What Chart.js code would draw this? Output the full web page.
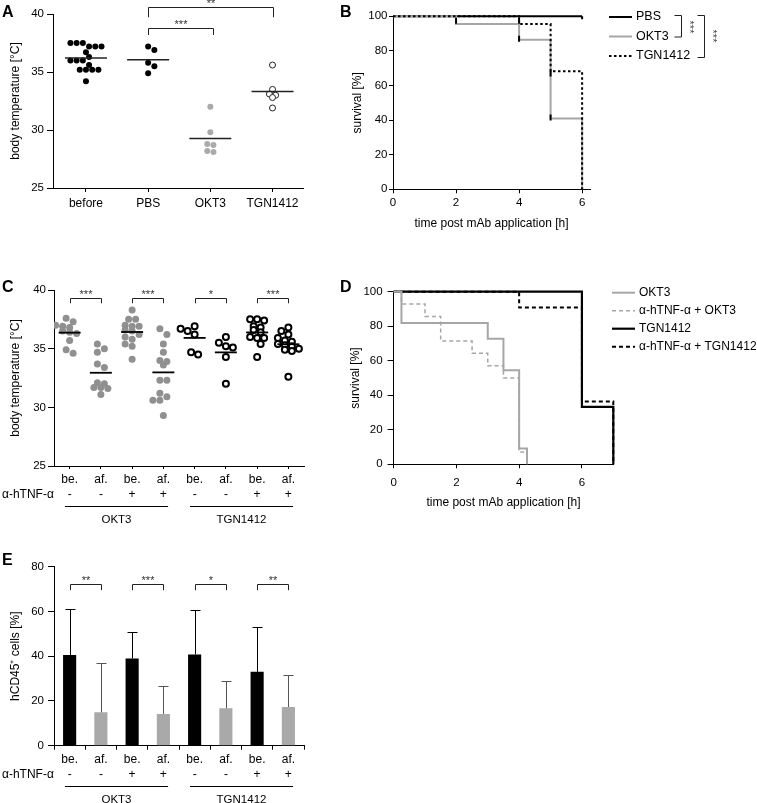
<!DOCTYPE html>
<html>
<head>
<meta charset="utf-8">
<script src="https://cdn.jsdelivr.net/npm/chart.js@4.4.0/dist/chart.umd.min.js"></script>
<style>
  body { margin: 0; background: #fff; }
  #wrap { position: relative; width: 757px; height: 803px; }
  canvas { position: absolute; }
</style>
</head>
<body>
<div id="wrap">
  <canvas id="chartA" width="340" height="240" style="left:0;top:0"></canvas>
  <canvas id="chartB" width="417" height="240" style="left:340px;top:0"></canvas>
  <canvas id="chartC" width="340" height="290" style="left:0;top:250px"></canvas>
  <canvas id="chartD" width="417" height="270" style="left:340px;top:250px"></canvas>
  <canvas id="chartE" width="340" height="263" style="left:0;top:540px"></canvas>
</div>
<script>
// ===== Data =====
// A: body temperature per group
const groupsA = ["before", "PBS", "OKT3", "TGN1412"];
const tempBefore = [37.5, 37.5, 37.5, 37.2, 37.2, 37.2, 36.7, 36.3, 36.0, 36.0, 36.0, 35.6, 35.2, 35.2, 35.2, 35.2, 34.2];
const tempPBS = [37.2, 36.9, 35.8, 35.5, 34.9];
const tempOKT3 = [32.0, 29.8, 28.8, 28.7, 28.2, 28.1];
const tempTGN = [35.6, 33.5, 33.1, 33.0, 32.8, 31.9];

// B: survival (Kaplan-Meier steps)
const timePBS = [0, 6];
const survPBS = [100, 100];
const timeOKT3B = [0, 2, 4, 5, 6];
const survOKT3B = [100, 95.5, 86.4, 40.9, 0];
const timeTGNB = [0, 4, 5, 6];
const survTGNB = [100, 95.5, 68.2, 0];
const censorTimeB = [2, 4, 4, 5, 5, 6];
const censorSurvB = [97.5, 97.5, 87, 67, 41.5, 100];

// C: temperature before / after, with or without anti-TNF
const labelsCE = ["be.", "af.", "be.", "af.", "be.", "af.", "be.", "af."];
const tnfCE = ["-", "-", "+", "+", "-", "-", "+", "+"];
const groupNames = ["OKT3", "TGN1412"];
const groupSpans = [[0, 3], [4, 7]];
const cOkt3Be = [37.6, 37.3, 37.0, 36.9, 36.8, 36.5, 36.4, 36.3, 35.7, 34.9, 34.6];
const cOkt3Af = [35.4, 35.0, 34.7, 33.7, 33.4, 32.1, 32.0, 31.7, 31.7, 31.6, 31.1];
const cOkt3TnfBe = [38.3, 37.5, 37.5, 37.0, 36.9, 36.9, 36.6, 36.5, 36.2, 36.0, 35.8, 35.4, 35.2, 34.1];
const cOkt3TnfAf = [36.7, 36.2, 35.4, 34.7, 34.0, 33.9, 33.6, 32.3, 32.3, 31.2, 30.9, 30.6, 30.6, 29.3];
const cTgnBe = [36.9, 36.7, 36.5, 36.2, 34.7, 34.5];
const cTgnAf = [36.0, 35.5, 35.2, 35.1, 34.3, 32.0];
const cTgnTnfBe = [37.5, 37.5, 37.4, 36.9, 36.8, 36.6, 36.4, 36.0, 35.9, 35.9, 35.4, 34.3];
const cTgnTnfAf = [36.8, 36.5, 36.2, 35.9, 35.7, 35.6, 35.4, 35.3, 35.2, 35.0, 34.9, 34.8, 32.6];

// D: survival with anti-TNF
const timeOKT3D = [0, 0.25, 3, 3.5, 4, 4.25];
const survOKT3D = [100, 81.8, 72.7, 54.5, 9.1, 0];
const timeTnfOKT3 = [0, 0.25, 1, 1.5, 2.5, 3, 3.5, 4, 4.25];
const survTnfOKT3 = [100, 92.9, 85.7, 71.4, 64.3, 57.1, 50, 7.1, 0];
const timeTGND = [0, 6, 7];
const survTGND = [100, 33.3, 0];
const timeTnfTGN = [0, 4, 6, 7];
const survTnfTGN = [100, 90.9, 36.4, 0];

// E: hCD45+ cells, mean and SD
const meanE = [40.5, 14.9, 39.0, 14.2, 40.8, 16.7, 33.0, 17.3];
const sdE = [20.8, 22.0, 11.6, 12.3, 19.9, 12.2, 19.9, 14.4];

// ===== Shared settings =====
const FONT = "'Liberation Sans', Arial, Helvetica, sans-serif";
const GRAY = "#a6a6a6";
const DOT_GRAY = "#909090";
Chart.defaults.font.family = FONT;
Chart.defaults.color = "#000";
Chart.defaults.animation = false;
Chart.defaults.responsive = false;
Chart.defaults.layout.autoPadding = false;
Chart.defaults.plugins.legend.display = false;
Chart.defaults.plugins.tooltip.enabled = false;

function mean(arr) {
  return arr.reduce((s, v) => s + v, 0) / arr.length;
}

// Prism-like column scatter: values sharing a row band sit side by side,
// a row is nudged half a dot sideways when it would overlap the row above
function swarm(values, centre, pxX, pxY, diam) {
  const rows = {};
  values.forEach(v => {
    const r = Math.round((v * pxY) / diam);
    (rows[r] = rows[r] || []).push(v);
  });
  const placed = [];
  const out = [];
  Object.keys(rows).map(Number).sort((a, b) => b - a).forEach(r => {
    const vs = rows[r];
    const shifts = [0, diam / 2, -diam / 2, diam, -diam];
    let best = 0;
    for (const s of shifts) {
      const ok = vs.every((v, k) => {
        const dx = (k - (vs.length - 1) / 2) * diam + s;
        return placed.every(p => (p.dx - dx) ** 2 + (p.py - v * pxY) ** 2 >= (0.9 * diam) ** 2);
      });
      if (ok) { best = s; break; }
    }
    vs.forEach((v, k) => {
      const dx = (k - (vs.length - 1) / 2) * diam + best;
      placed.push({ dx, py: v * pxY });
      out.push({ x: centre + dx / pxX, y: v });
    });
  });
  return out;
}

function toXY(xs, ys) {
  return xs.map((x, i) => ({ x, y: ys[i] }));
}

function yAxis(min, max, step, title, fit) {
  return {
    min, max,
    border: { color: "#000", width: 1 },
    grid: { drawOnChartArea: false, color: "#000", tickLength: fit.tick },
    ticks: { stepSize: step, padding: fit.pad, font: { size: 11.5 } },
    title: { display: true, text: title, font: { size: 12 }, padding: { top: fit.title, bottom: 0 } },
    afterFit: s => { s.width = fit.width; }
  };
}

function indexAxis(labels, min, max, fit) {
  return {
    type: "linear", min, max,
    border: { color: "#000", width: 1 },
    grid: { drawOnChartArea: false, color: "#000", tickLength: fit.tick },
    afterBuildTicks: s => { s.ticks = labels.map((_, i) => ({ value: i })); },
    ticks: { autoSkip: false, maxRotation: 0, padding: fit.pad, font: { size: 12 }, callback: v => labels[v] },
    afterFit: s => { s.height = fit.height; }
  };
}

function timeAxis(max, fit) {
  return {
    type: "linear", min: 0, max,
    border: { color: "#000", width: 1 },
    grid: { drawOnChartArea: false, color: "#000", tickLength: 4 },
    afterBuildTicks: s => { s.ticks = [0, 2, 4, 6].map(v => ({ value: v })); },
    ticks: { padding: fit.pad, font: { size: 11.5 } },
    title: { display: true, text: "time post mAb application [h]", font: { size: 12 }, padding: { top: 0, bottom: fit.title } },
    afterFit: s => { s.height = fit.height; }
  };
}

// ===== Plugins =====
function letter(text, x, y) {
  return {
    id: "letter",
    afterDraw(chart) {
      const ctx = chart.ctx;
      ctx.save();
      ctx.font = `bold 16px ${FONT}`;
      ctx.fillStyle = "#000";
      ctx.textBaseline = "alphabetic";
      ctx.fillText(text, x, y);
      ctx.restore();
    }
  };
}

function brackets(items) {
  return {
    id: "brackets",
    afterDraw(chart) {
      const { ctx, scales: { x, y } } = chart;
      ctx.save();
      ctx.strokeStyle = "#222";
      ctx.lineWidth = 1;
      ctx.fillStyle = "#333";
      ctx.font = `11px ${FONT}`;
      ctx.textAlign = "center";
      ctx.textBaseline = "alphabetic";
      items.forEach(b => {
        const x1 = Math.round(x.getPixelForValue(b.from)) + 0.5;
        const x2 = Math.round(x.getPixelForValue(b.to)) + 0.5;
        const yl = Math.round(y.getPixelForValue(b.level)) + 0.5;
        const yd = y.getPixelForValue(b.drop);
        ctx.beginPath();
        ctx.moveTo(x1, yd);
        ctx.lineTo(x1, yl);
        ctx.lineTo(x2, yl);
        ctx.lineTo(x2, yd);
        ctx.stroke();
        ctx.fillText(b.text, (x1 + x2) / 2, yl - 1);
      });
      ctx.restore();
    }
  };
}

// second label row, group underlines and group names below C and E
const groupRows = {
  id: "groupRows",
  afterDraw(chart) {
    const { ctx, chartArea, scales: { x } } = chart;
    const b = chartArea.bottom;
    ctx.save();
    ctx.fillStyle = "#000";
    ctx.strokeStyle = "#000";
    ctx.lineWidth = 1;
    ctx.font = `12px ${FONT}`;
    ctx.textBaseline = "middle";
    ctx.textAlign = "left";
    ctx.fillText("α-hTNF-α", 2, b + 28.5);
    ctx.textAlign = "center";
    tnfCE.forEach((s, i) => ctx.fillText(s, x.getPixelForValue(i), b + 28.5));
    ctx.font = `11.5px ${FONT}`;
    groupNames.forEach((name, g) => {
      const x1 = x.getPixelForValue(groupSpans[g][0] - 0.15);
      const x2 = x.getPixelForValue(groupSpans[g][1] + 0.15);
      ctx.beginPath();
      ctx.moveTo(x1, Math.round(b + 40) + 0.5);
      ctx.lineTo(x2, Math.round(b + 40) + 0.5);
      ctx.stroke();
      ctx.fillText(name, (x1 + x2) / 2, b + 54);
    });
    ctx.restore();
  }
};

function lineLegend(entries, x0, y0, gapY, size) {
  return {
    id: "lineLegend",
    afterDraw(chart) {
      const ctx = chart.ctx;
      ctx.save();
      ctx.font = `${size}px ${FONT}`;
      ctx.textBaseline = "middle";
      ctx.fillStyle = "#000";
      entries.forEach((ds, i) => {
        const y = y0 + i * gapY;
        ctx.strokeStyle = ds.borderColor;
        ctx.lineWidth = ds.borderWidth;
        ctx.setLineDash(ds.borderDash || []);
        ctx.beginPath();
        ctx.moveTo(x0, y);
        ctx.lineTo(x0 + 23, y);
        ctx.stroke();
        ctx.setLineDash([]);
        ctx.fillText(ds.label, x0 + 27, y);
      });
      ctx.restore();
    }
  };
}

// ===== A =====
const seriesA = [tempBefore, tempPBS, tempOKT3, tempTGN];
const styleA = [
  { bg: "#000", bc: "#000", bw: 0 },
  { bg: "#000", bc: "#000", bw: 0 },
  { bg: "#aaaaaa", bc: "#aaaaaa", bw: 0 },
  { bg: "#fff", bc: "#222", bw: 1 }
];
new Chart(document.getElementById("chartA"), {
  type: "scatter",
  data: {
    datasets: [
      ...seriesA.map((vals, i) => ({
        data: swarm(vals, i, 62, 11.6, 6.2),
        pointRadius: 3, backgroundColor: styleA[i].bg, borderColor: styleA[i].bc,
        borderWidth: styleA[i].bw, order: 1
      })),
      {
        data: seriesA.map((vals, i) => ({ x: i, y: mean(vals) })),
        pointStyle: "line", pointRadius: 21, borderColor: "#222", borderWidth: 1.5, order: 0
      }
    ]
  },
  options: {
    layout: { padding: { top: 14, right: 37, bottom: 0, left: 0 } },
    scales: {
      x: indexAxis(groupsA, -0.53, 3.49, { tick: 4, pad: 4, height: 52 }),
      y: yAxis(25, 40, 5, "body temperature [°C]", { tick: 6, pad: 3, title: 8, width: 53 })
    }
  },
  plugins: [
    letter("A", 2, 17),
    brackets([
      { from: 1, to: 2.05, level: 38.79, drop: 38.19, text: "***" },
      { from: 1, to: 3, level: 40.58, drop: 39.72, text: "**" }
    ])
  ]
});

// ===== B =====
const dsPBS = { label: "PBS", data: toXY(timePBS, survPBS), borderColor: "#000", borderWidth: 2, order: 3 };
const dsOKT3B = { label: "OKT3", data: toXY(timeOKT3B, survOKT3B), borderColor: GRAY, borderWidth: 2, order: 2 };
const dsTGNB = { label: "TGN1412", data: toXY(timeTGNB, survTGNB), borderColor: "#000", borderWidth: 2, borderDash: [2.5, 2.5], order: 1 };
const legendBrackets = {
  id: "legendBrackets",
  afterDraw(chart) {
    const ctx = chart.ctx;
    ctx.save();
    ctx.strokeStyle = "#222";
    ctx.lineWidth = 1;
    ctx.fillStyle = "#444";
    ctx.font = `11px ${FONT}`;
    ctx.textAlign = "center";
    ctx.textBaseline = "middle";
    [[341.5, 15, 36.5, 349, 27], [364.5, 15, 57, 372, 36]].forEach(([x, y1, y2, sx, sy]) => {
      ctx.beginPath();
      ctx.moveTo(x - 7, y1 + 0.5);
      ctx.lineTo(x, y1 + 0.5);
      ctx.lineTo(x, y2 + 0.5);
      ctx.lineTo(x - 7, y2 + 0.5);
      ctx.stroke();
      ctx.save();
      ctx.translate(sx, sy);
      ctx.rotate(Math.PI / 2);
      ctx.fillText("***", 0, 0);
      ctx.restore();
    });
    ctx.restore();
  }
};
new Chart(document.getElementById("chartB"), {
  type: "line",
  data: {
    datasets: [dsPBS, dsOKT3B, dsTGNB].map(ds => ({ ...ds, stepped: "before", pointRadius: 0, fill: false, clip: false }))
      .concat([{
        data: toXY(censorTimeB, censorSurvB), showLine: false, pointStyle: "line", pointRotation: 90,
        pointRadius: 3, pointBorderColor: "#000", pointBorderWidth: 2, order: 0
      }])
  },
  options: {
    layout: { padding: { top: 16.3, right: 167, bottom: 0, left: 0 } },
    scales: {
      x: timeAxis(6.25, { pad: 3, title: 9.5, height: 50.7 }),
      y: yAxis(0, 100, 20, "survival [%]", { tick: 4, pad: 1.5, title: 10, width: 53 })
    }
  },
  plugins: [letter("B", 0, 17), lineLegend([dsPBS, dsOKT3B, dsTGNB], 269, 17, 19.5, 12.5), legendBrackets]
});

// ===== C =====
const seriesC = [cOkt3Be, cOkt3Af, cOkt3TnfBe, cOkt3TnfAf, cTgnBe, cTgnAf, cTgnTnfBe, cTgnTnfAf];
new Chart(document.getElementById("chartC"), {
  type: "scatter",
  data: {
    datasets: [
      ...seriesC.map((vals, i) => {
        const open = i >= 4;
        return {
          data: swarm(vals, i, 31.25, 11.73, 7),
          pointRadius: open ? 3 : 3.5,
          backgroundColor: open ? "#fff" : DOT_GRAY,
          borderColor: open ? "#000" : DOT_GRAY,
          borderWidth: open ? 2 : 0,
          order: 1
        };
      }),
      {
        data: seriesC.map((vals, i) => ({ x: i, y: mean(vals) })),
        pointStyle: "line", pointRadius: 11, borderColor: "#000", borderWidth: 1.8, order: 0
      }
    ]
  },
  options: {
    layout: { padding: { top: 40, right: 36, bottom: 0, left: 0 } },
    scales: {
      x: indexAxis(labelsCE, -0.5, 7.5, { tick: 3, pad: 3, height: 74 }),
      y: yAxis(25, 40, 5, "body temperature [°C]", { tick: 6, pad: 2, title: 8, width: 54 })
    }
  },
  plugins: [
    letter("C", 2, 42),
    groupRows,
    brackets([
      { from: 0, to: 1, level: 39.34, drop: 38.87, text: "***" },
      { from: 2, to: 3, level: 39.34, drop: 38.87, text: "***" },
      { from: 4, to: 5, level: 39.34, drop: 38.87, text: "*" },
      { from: 6, to: 7, level: 39.34, drop: 38.87, text: "***" }
    ])
  ]
});

// ===== D =====
const dsOKT3D = { label: "OKT3", data: toXY(timeOKT3D, survOKT3D), borderColor: GRAY, borderWidth: 2, order: 1 };
const dsTnfOKT3 = { label: "α-hTNF-α + OKT3", data: toXY(timeTnfOKT3, survTnfOKT3), borderColor: GRAY, borderWidth: 1.5, borderDash: [4, 3], order: 2 };
const dsTGND = { label: "TGN1412", data: toXY(timeTGND, survTGND), borderColor: "#000", borderWidth: 2.2, order: 4 };
const dsTnfTGN = { label: "α-hTNF-α + TGN1412", data: toXY(timeTnfTGN, survTnfTGN), borderColor: "#000", borderWidth: 2, borderDash: [4, 3], order: 3 };
new Chart(document.getElementById("chartD"), {
  type: "line",
  data: {
    datasets: [dsOKT3D, dsTnfOKT3, dsTGND, dsTnfTGN].map(ds => ({ ...ds, stepped: "before", pointRadius: 0, fill: false, clip: false }))
  },
  options: {
    layout: { padding: { top: 41.7, right: 143.7, bottom: 0, left: 0 } },
    scales: {
      x: timeAxis(7, { pad: 8, title: 10, height: 55.7 }),
      y: yAxis(0, 100, 20, "survival [%]", { tick: 6, pad: 5, title: 8, width: 53.6 })
    }
  },
  plugins: [letter("D", 0, 42), lineLegend([dsOKT3D, dsTnfOKT3, dsTGND, dsTnfTGN], 272, 42.7, 18, 12)]
});

// ===== E =====
const errorBars = {
  id: "errorBars",
  afterDatasetsDraw(chart) {
    const { ctx, scales: { y } } = chart;
    const meta = chart.getDatasetMeta(0);
    ctx.save();
    ctx.lineWidth = 1;
    meta.data.forEach((bar, i) => {
      const x = Math.round(bar.x) + 0.5;
      const top = Math.round(y.getPixelForValue(meanE[i] + sdE[i])) + 0.5;
      ctx.strokeStyle = labelsCE[i] === "be." ? "#000" : "#555";
      ctx.beginPath();
      ctx.moveTo(x, bar.y);
      ctx.lineTo(x, top);
      ctx.moveTo(x - 5, top);
      ctx.lineTo(x + 5, top);
      ctx.stroke();
    });
    ctx.restore();
  }
};
new Chart(document.getElementById("chartE"), {
  type: "bar",
  data: {
    labels: labelsCE,
    datasets: [{
      data: meanE,
      backgroundColor: labelsCE.map(l => (l === "be." ? "#000" : "#a9a9a9")),
      barPercentage: 0.42,
      categoryPercentage: 1
    }]
  },
  options: {
    layout: { padding: { top: 26.7, right: 36, bottom: 0, left: 0 } },
    scales: {
      x: {
        border: { color: "#000", width: 1 },
        grid: { drawOnChartArea: false, color: "#000", tickLength: 4 },
        ticks: { padding: 3, font: { size: 12 } },
        afterFit: s => { s.height = 57.3; }
      },
      y: yAxis(0, 80, 20, "hCD45⁺ cells [%]", { tick: 6, pad: 4, title: 8, width: 54 })
    }
  },
  plugins: [
    letter("E", 2, 25),
    errorBars,
    groupRows,
    brackets([
      { from: 0, to: 1, level: 72.05, drop: 69.5, text: "**" },
      { from: 2, to: 3, level: 72.05, drop: 69.5, text: "***" },
      { from: 4, to: 5, level: 72.05, drop: 69.5, text: "*" },
      { from: 6, to: 7, level: 72.05, drop: 69.5, text: "**" }
    ])
  ]
});
</script>
</body>
</html>
